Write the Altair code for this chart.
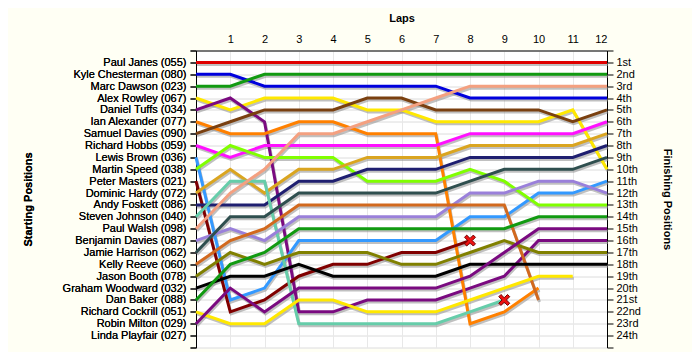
import json
import altair as alt
import pandas as pd

laps = list(range(13))

drivers = [
    "Paul Janes (055)", "Kyle Chesterman (080)", "Marc Dawson (023)", "Alex Rowley (067)",
    "Daniel Tuffs (034)", "Ian Alexander (077)", "Samuel Davies (090)", "Richard Hobbs (059)",
    "Lewis Brown (036)", "Martin Speed (038)", "Peter Masters (021)", "Dominic Hardy (072)",
    "Andy Foskett (086)", "Steven Johnson (040)", "Paul Walsh (098)", "Benjamin Davies (087)",
    "Jamie Harrison (062)", "Kelly Reeve (060)", "Jason Booth (078)", "Graham Woodward (032)",
    "Dan Baker (088)", "Richard Cockrill (051)", "Robin Milton (029)", "Linda Playfair (027)",
]

finish_labels = [
    "1st", "2nd", "3rd", "4th", "5th", "6th", "7th", "8th", "9th", "10th", "11th", "12th",
    "13th", "14th", "15th", "16th", "17th", "18th", "19th", "20th", "21st", "22nd", "23rd", "24th",
]

colors = [
    "#E00000", "#0000DD", "#119A11", "#FFE800", "#7A0A80", "#FF8000", "#7A4010", "#FF10FF",
    "#3399FF", "#80FF00", "#800000", "#DAA520", "#1F1F70", "#66CDAA", "#F4A080", "#9A80DA",
    "#2F4F4F", "#D2691E", "#808000", "#000000", "#119A11", "#FFE800", "#7A0A80", "#999999",
]

N = None
positions = [
    [1, 1, 1, 1, 1, 1, 1, 1, 1, 1, 1, 1, 1],
    [2, 2, 3, 3, 3, 3, 3, 3, 4, 4, 4, 4, 4],
    [3, 3, 2, 2, 2, 2, 2, 2, 2, 2, 2, 2, 2],
    [4, 5, 4, 4, 4, 5, 5, 6, 6, 6, 6, 5, 10],
    [5, 4, 6, 22, 22, 21, 21, 21, 20, 19, 16, 16, 16],
    [6, 7, 7, 6, 6, 7, 7, 7, 23, 22, 20, N, N],
    [7, 6, 5, 5, 5, 4, 4, 5, 5, 5, 5, 6, 5],
    [8, 9, 8, 8, 8, 8, 8, 8, 7, 7, 7, 7, 6],
    [9, 21, 20, 16, 16, 16, 16, 16, 14, 14, 12, 12, 11],
    [10, 8, 9, 9, 9, 11, 11, 11, 10, 11, 13, 13, 13],
    [11, 22, 21, 19, 18, 18, 17, 17, 16, N, N, N, N],
    [12, 10, 12, 10, 10, 9, 9, 9, 8, 8, 8, 8, 7],
    [13, 13, 13, 11, 11, 10, 10, 10, 9, 9, 9, 9, 8],
    [14, 11, 11, 23, 23, 23, 23, 23, 22, 21, N, N, N],
    [15, 12, 10, 7, 7, 6, 5, 4, 3, 3, 3, 3, 3],
    [16, 15, 16, 14, 14, 14, 14, 14, 12, 12, 11, 11, 12],
    [17, 14, 14, 12, 12, 12, 12, 12, 11, 10, 10, 10, 9],
    [18, 16, 15, 13, 13, 13, 13, 13, 13, 13, 21, N, N],
    [19, 17, 18, 17, 17, 17, 18, 18, 17, 16, 17, 17, 17],
    [20, 19, 19, 18, 19, 19, 19, 19, 18, 18, 18, 18, 18],
    [21, 18, 17, 15, 15, 15, 15, 15, 15, 15, 14, 14, 14],
    [22, 23, 23, 21, 21, 22, 22, 22, 21, 20, 19, 19, N],
    [23, 20, 22, 20, 20, 20, 20, 20, 19, 17, 15, 15, 15],
    [N, N, N, N, N, N, N, N, N, N, N, N, N],
]

retired_lap = [8, 9]
retired_pos = [16, 21]

rows = []
for i, name in enumerate(drivers):
    for lap, p in zip(laps, positions[i]):
        if p is not None:
            rows.append({"driver": name, "idx": i, "lap": lap, "pos": p})
df = pd.DataFrame(rows)
df_x = pd.DataFrame({"lap": retired_lap, "pos": retired_pos})

FONT = "Liberation Sans"
GRID = "#E8E8E8"

x_scale = alt.Scale(domain=[0, 12], nice=False, zero=False)
y_scale = alt.Scale(domain=[0, 25], reverse=True, nice=False, zero=False)

x_enc = alt.X(
    "lap:Q",
    scale=x_scale,
    axis=alt.Axis(
        orient="top", values=laps, labelExpr="datum.value == 0 ? '' : datum.value",
        title="Laps", ticks=False, grid=True, gridColor=GRID, domainColor="black",
        labelFontSize=11, labelColor="black", labelPadding=6, labelFont=FONT,
        titleFontSize=11, titleFontWeight="bold", titleFont=FONT, titleColor="black",
        titleY=-32.5, titleBaseline="middle",
    ),
)

left_expr = "datum.value >= 1 && datum.value <= 24 ? " + json.dumps(drivers) + "[datum.value - 1] : ''"
right_expr = "datum.value >= 1 && datum.value <= 24 ? " + json.dumps(finish_labels) + "[datum.value - 1] : ''"

y_left = alt.Y(
    "pos:Q",
    scale=y_scale,
    axis=alt.Axis(
        orient="left", values=list(range(26)), labelExpr=left_expr,
        title="Starting Positions", tickSize=6, tickColor="black", domainColor="black",
        grid=True, gridColor=GRID, labelPadding=4, labelFontSize=11, labelColor="black",
        labelFont=FONT, titleFont=FONT, titleFontSize=11, titleFontWeight="bold",
        titleColor="black", titleAngle=270, titleX=-168, titleY=148.5,
        titleBaseline="middle", titleAlign="center",
    ),
)

y_right = alt.Y(
    "pos:Q",
    scale=y_scale,
    axis=alt.Axis(
        orient="right", values=list(range(26)), labelExpr=right_expr,
        title="Finishing Positions", tickSize=6, tickColor="black", domainColor="black",
        grid=False, labelPadding=3, labelFontSize=11, labelColor="black",
        labelFont=FONT, titleFont=FONT, titleFontSize=11, titleFontWeight="bold",
        titleColor="black", titleAngle=90, titleX=59, titleY=148.5,
        titleBaseline="middle", titleAlign="center",
    ),
)

shadow = alt.Chart(df).mark_line(
    strokeWidth=3, color="#8C8C8C", opacity=0.55, xOffset=1, yOffset=2
).encode(x=x_enc, y=y_left, detail="driver:N")

lines = alt.Chart(df).mark_line(strokeWidth=3).encode(
    x=x_enc,
    y=y_left,
    color=alt.Color("driver:N", scale=alt.Scale(domain=drivers, range=colors), legend=None),
)

xshape = "M-1,-0.6L-0.6,-1L0,-0.4L0.6,-1L1,-0.6L0.4,0L1,0.6L0.6,1L0,0.4L-0.6,1L-1,0.6L-0.4,0Z"
markers = alt.Chart(df_x).mark_point(
    shape=xshape, filled=True, fill="#EE1111", stroke="#700000", strokeWidth=1, size=120, opacity=1
).encode(x=x_enc, y=y_right)

chart = alt.layer(shadow, lines, markers).resolve_axis(y="independent").properties(
    width=411,
    height=297,
    autosize=alt.AutoSizeParams(type="none"),
    padding={"left": 188, "top": 42.5, "right": 85, "bottom": 4},
    background="#FFFFF4",
).configure_view(fill="white", stroke="transparent")

chart.save("out.html", embed_options={"renderer": "svg", "actions": False})
